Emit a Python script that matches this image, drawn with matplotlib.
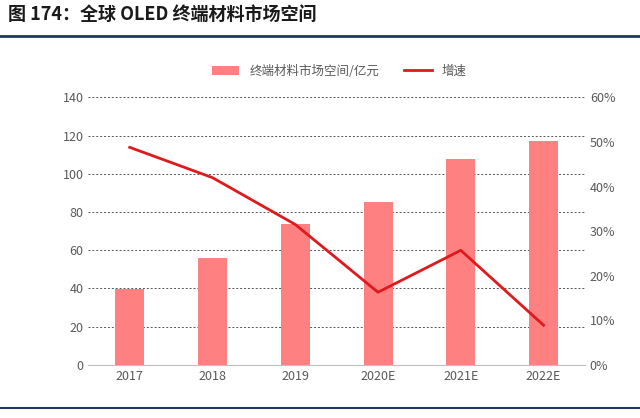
import matplotlib.pyplot as plt
from matplotlib.ticker import PercentFormatter

plt.rcParams['font.family'] = ['Noto Sans CJK SC', 'DejaVu Sans']

years = ['2017', '2018', '2019', '2020E', '2021E', '2022E']
market = [39.5, 56, 74, 85.5, 108, 117]
growth = [48.8, 42.0, 31.5, 16.3, 25.7, 8.9]

fig = plt.figure(figsize=(6.4, 4.18), dpi=100)
ax = fig.add_axes([0.138, 0.127, 0.776, 0.64])
ax2 = ax.twinx()

x = range(len(years))
bars = ax.bar(x, market, width=0.35, color='#ff8080', label='终端材料市场空间/亿元', zorder=2)
line, = ax2.plot(x, growth, color='#e0191c', lw=2, label='增速')

ax.set_ylim(0, 140)
ax.set_yticks(range(0, 141, 20))
ax2.set_ylim(0, 60)
ax2.set_yticks(range(0, 61, 10))
ax2.yaxis.set_major_formatter(PercentFormatter(decimals=0))
ax.set_xticks(list(x))
ax.set_xticklabels(years)
ax.set_xlim(-0.5, 5.5)
ax.yaxis.grid(True, linestyle=(0, (2, 2)), color='#555555', lw=0.7, zorder=0)
ax.set_axisbelow(True)
for a in (ax, ax2):
    for s in ['top', 'left', 'right']:
        a.spines[s].set_visible(False)
    a.tick_params(length=0, labelsize=9, colors='#595959')
ax.spines['bottom'].set_color('#bfbfbf')
ax2.spines['bottom'].set_visible(False)

fig.legend(handles=[bars, line], loc='center', bbox_to_anchor=(0.53, 0.83),
           ncol=2, frameon=False, fontsize=9, labelcolor='#595959',
           handlelength=2.2, columnspacing=2)

fig.text(0.012, 0.965, '图 174：全球 OLED 终端材料市场空间', fontsize=13,
         fontweight='bold', va='center', color='#1a1a1a')
fig.add_artist(plt.Line2D([0, 1], [0.915, 0.915], color='#1f3864', lw=2))
fig.add_artist(plt.Line2D([0, 1], [0.025, 0.025], color='#1f3864', lw=1.5))

fig.savefig('out.png')
